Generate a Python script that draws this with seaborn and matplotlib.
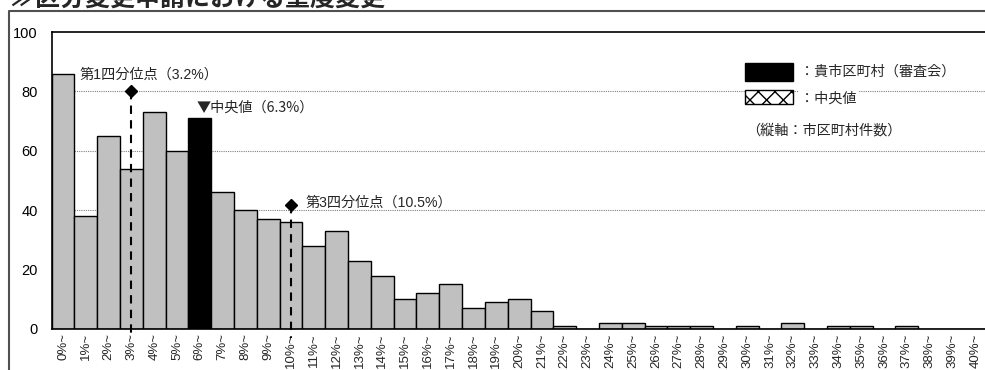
import matplotlib
matplotlib.use("Agg")
import matplotlib.pyplot as plt
from matplotlib.lines import Line2D
from matplotlib.patches import Rectangle
import seaborn as sns

# data
categories = [f"{i}%~" for i in range(41)]
counts = [86, 38, 65, 54, 73, 60, 71, 46, 40, 37, 36, 28, 33, 23, 18, 10, 12, 15, 7, 9,
          10, 6, 1, 0, 2, 2, 1, 1, 1, 0, 1, 0, 2, 0, 1, 1, 0, 1, 0, 0, 0]
own_category = "6%~"
q1_pos, q1_label = 3, "第1四分位点（3.2%）"
median_label = "▼中央値（6.3%）"
q3_pos, q3_label = 10, "第3四分位点（10.5%）"
y_ticks = [0, 20, 40, 60, 80, 100]
grid_levels = [40, 60, 80]
title = "≫区分変更申請における重度変更"
legend_own = "：貴市区町村（審査会）"
legend_median = "：中央値"
axis_note = "（縦軸：市区町村件数）"

W, H = 985, 370


def main() -> None:
    sns.set_theme(style="white")
    plt.rcParams["font.family"] = ["Liberation Sans", "Noto Sans CJK JP"]

    fig = plt.figure(figsize=(W / 100, H / 100), dpi=100)
    ax = fig.add_axes([51.6 / W, 41 / H, 935 / W, 297 / H])

    colors = ["black" if c == own_category else "#C0C0C0" for c in categories]
    sns.barplot(x=categories, y=counts, hue=categories, palette=colors, legend=False,
                width=1.0, edgecolor="black", linewidth=1.0, saturation=1, ax=ax, zorder=2)

    ax.set_xlim(-0.5, len(categories) - 0.5)
    ax.set_ylim(0, 100)
    ax.set_yticks(y_ticks)
    for lvl in grid_levels:
        ax.axhline(lvl, color="#808080", lw=0.8, ls=(0, (1, 1)), zorder=1)

    ax.tick_params(axis="y", length=0, pad=10, labelsize=10.5, colors="black")
    ax.tick_params(axis="x", which="major", length=0, pad=3, labelsize=9.5, rotation=90)
    ax.set_xticks([i + 0.5 for i in range(len(categories) - 1)], minor=True)
    ax.tick_params(axis="x", which="minor", direction="in", length=4, width=0.8, color="black")
    ax.set_xlabel("")
    ax.set_ylabel("")
    for side in ["left", "bottom", "top"]:
        ax.spines[side].set_color("black")
        ax.spines[side].set_linewidth(1.2)
    ax.spines["right"].set_visible(False)

    # quartile markers
    ax.plot([q1_pos, q1_pos], [80, -3], ls=(0, (4, 3)), color="black", lw=1.5, clip_on=False, zorder=3)
    ax.plot(q1_pos, 80, marker="D", color="black", ms=6, zorder=4)
    ax.plot([q3_pos, q3_pos], [41.8, -3], ls=(0, (4, 3)), color="black", lw=1.5, clip_on=False, zorder=3)
    ax.plot(q3_pos, 41.8, marker="D", color="black", ms=6, zorder=4)
    ax.text(0.72, 85.5, q1_label, fontsize=10.2, va="center", ha="left", zorder=5)
    ax.text(5.85, 74.4, median_label, fontsize=10.2, va="center", ha="left", zorder=5,
            family=["Noto Sans CJK JP", "DejaVu Sans"])
    ax.text(10.62, 42.4, q3_label, fontsize=10.2, va="center", ha="left", zorder=5)

    # legend
    fig.patches.append(Rectangle((745 / W, 1 - 81 / H), 48 / W, 18 / H, transform=fig.transFigure,
                                 facecolor="black", edgecolor="black", figure=fig, zorder=5))
    fig.patches.append(Rectangle((745 / W, 1 - 104 / H), 48 / W, 14 / H, transform=fig.transFigure,
                                 facecolor="white", edgecolor="black", hatch="xx", lw=1,
                                 figure=fig, zorder=5))
    fig.text(800 / W, 1 - 72 / H, legend_own, fontsize=10.2, va="center", ha="left")
    fig.text(800 / W, 1 - 99 / H, legend_median, fontsize=10.2, va="center", ha="left",
             bbox=dict(facecolor="white", edgecolor="none", pad=1))
    fig.text(746 / W, 1 - 130 / H, axis_note, fontsize=10.2, va="center", ha="left")

    # title (partly cut off at the top, as in the source) and outer frame
    fig.text(10 / W, 1 - 6 / H, title, fontsize=18, fontweight="bold", va="baseline", ha="left")
    fig.add_artist(Line2D([8.5 / W, 8.5 / W, 1], [0, 1 - 10.5 / H, 1 - 10.5 / H],
                          transform=fig.transFigure, color="#505050", lw=1.5))

    fig.savefig("out.png", dpi=100)
    plt.close(fig)


if __name__ == "__main__":
    main()
